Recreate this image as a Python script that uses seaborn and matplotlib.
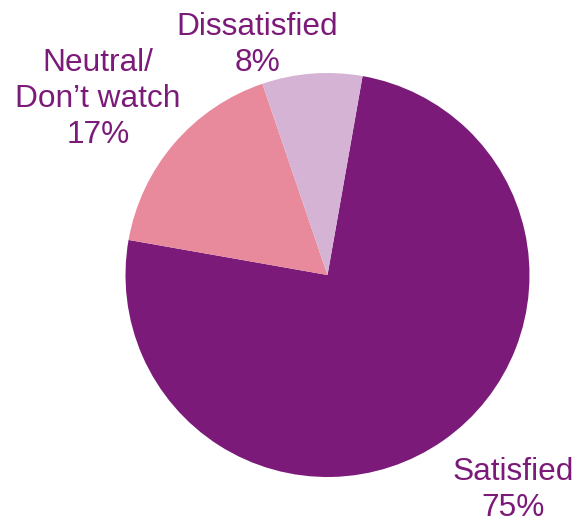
import matplotlib
matplotlib.use("Agg")
import matplotlib.pyplot as plt
import seaborn as sns

# Satisfaction shares, in clockwise order from the top
categories = ["Satisfied", "Neutral/\nDon\u2019t watch", "Dissatisfied"]
shares = [75, 17, 8]
colors = ["#7B1A78", "#E8899C", "#D5B3D5"]
text_color = "#7B1A78"

sns.set_theme(style="white")
plt.rcParams["font.family"] = ["Liberation Sans", "DejaVu Sans"]

W, H, DPI = 580, 522, 100
fig = plt.figure(figsize=(W / DPI, H / DPI), dpi=DPI)
ax = fig.add_axes([0, 0, 1, 1])

# pie centre and radius in pixels
cx, cy, r = 327.5, 275.0, 202.0

wedges, _ = ax.pie(
    shares,
    colors=sns.color_palette(colors),
    startangle=80,
    counterclock=False,
    wedgeprops=dict(linewidth=0),
)
ax.set_xlim(-cx / r, (W - cx) / r)
ax.set_ylim(-(H - cy) / r, cy / r)
ax.set_aspect("equal")
ax.axis("off")

# label centres in pixels (x, y from top)
label_pos = {
    "Satisfied": (513, 490),
    "Neutral/\nDon\u2019t watch": (98, 99),
    "Dissatisfied": (257, 45),
}
for name, val in zip(categories, shares):
    px, py = label_pos[name]
    ax.text(
        (px - cx) / r, (cy - py) / r, f"{name}\n{val}%",
        ha="center", va="center", fontsize=22.8, color=text_color,
        linespacing=1.25,
    )

fig.savefig("out.png", dpi=DPI)
